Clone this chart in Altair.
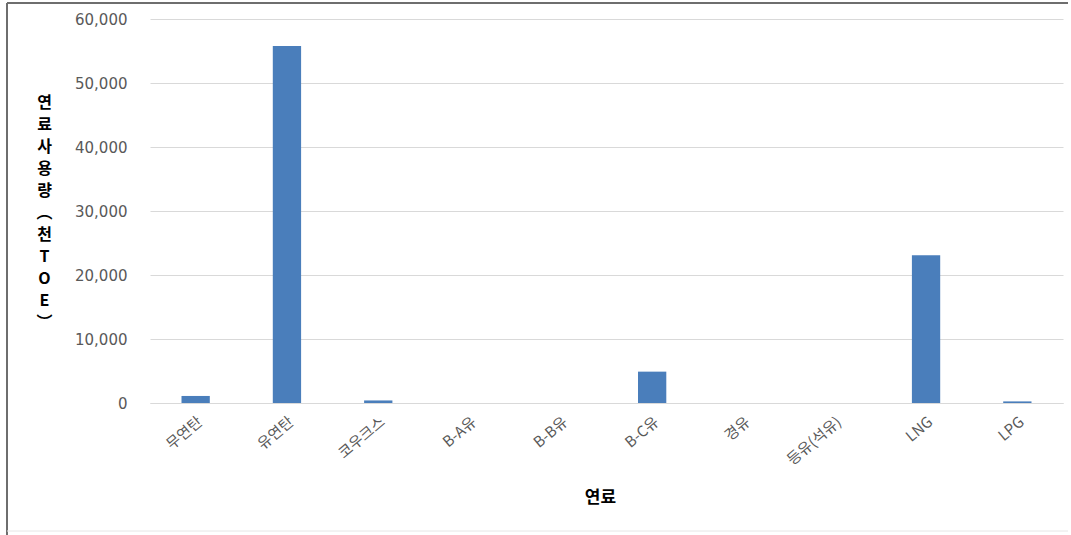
import altair as alt
import pandas as pd

# Fuel consumption by fuel type (thousand TOE)
fuels = ["무연탄", "유연탄", "코우크스", "B-A유", "B-B유", "B-C유", "경유", "등유(석유)", "LNG", "LPG"]
usage = [1100, 55800, 400, 0, 0, 4900, 0, 0, 23100, 250]

y_ticks = [0, 10000, 20000, 30000, 40000, 50000, 60000]
y_title = ["연", "료", "사", "용", "량", "︵", "천", "T", "O", "E", "︶"]

df = pd.DataFrame({"연료": fuels, "사용량": usage})

W, H = 913, 384
KR = "Noto Sans CJK KR"
NUM = "DejaVu Sans"

bars = alt.Chart(df).mark_bar(color="#4a7ebb").encode(
    x=alt.X(
        "연료:N",
        sort=fuels,
        scale=alt.Scale(paddingInner=0.69, paddingOuter=0.345),
        axis=alt.Axis(
            title="연료",
            labelAngle=-40,
            labelFont=KR,
            labelFontSize=15,
            labelColor="#595959",
            labelPadding=11,
            ticks=False,
            domainColor="#d9d9d9",
            domainWidth=1,
            titleFont=KR,
            titleFontSize=17,
            titleFontWeight="bold",
            titleColor="#000000",
            titleY=94,
            titleX=450,
            titleBaseline="middle",
        ),
    ),
    y=alt.Y(
        "사용량:Q",
        scale=alt.Scale(domain=[0, 60000], nice=False),
        axis=alt.Axis(
            title=y_title,
            values=y_ticks,
            format=",.0f",
            labelFont=NUM,
            labelFontSize=15,
            labelColor="#595959",
            labelPadding=23,
            ticks=False,
            domain=False,
            gridColor="#d9d9d9",
            gridWidth=1,
            titleFont=KR,
            titleFontSize=16,
            titleFontWeight="bold",
            titleColor="#000000",
            titleAngle=0,
            titleAlign="center",
            titleBaseline="middle",
            titleLineHeight=22,
            titleX=-106,
            titleY=83,
        ),
    ),
)

# thin frame around the figure
frame_data = alt.Data(values=[{}])
frame_left = alt.Chart(frame_data).mark_rule(color="#6e6e6e", strokeWidth=2).encode(
    x=alt.value(-143), y=alt.value(-16), y2=alt.value(516)
)
frame_top = alt.Chart(frame_data).mark_rule(color="#6e6e6e", strokeWidth=2).encode(
    x=alt.value(-143), x2=alt.value(918), y=alt.value(-16)
)
frame_bottom = alt.Chart(frame_data).mark_rule(color="#e6e6e6", strokeWidth=1).encode(
    x=alt.value(-143), x2=alt.value(918), y=alt.value(512)
)

chart = (
    alt.layer(bars, frame_left, frame_top, frame_bottom)
    .properties(
        width=W,
        height=H,
        autosize=alt.AutoSizeParams(type="none"),
        padding={"left": 150, "top": 19, "right": 8, "bottom": 132},
        background="white",
    )
    .configure_view(stroke=None)
)

chart.save("out.html", embed_options={"renderer": "svg", "actions": False})
